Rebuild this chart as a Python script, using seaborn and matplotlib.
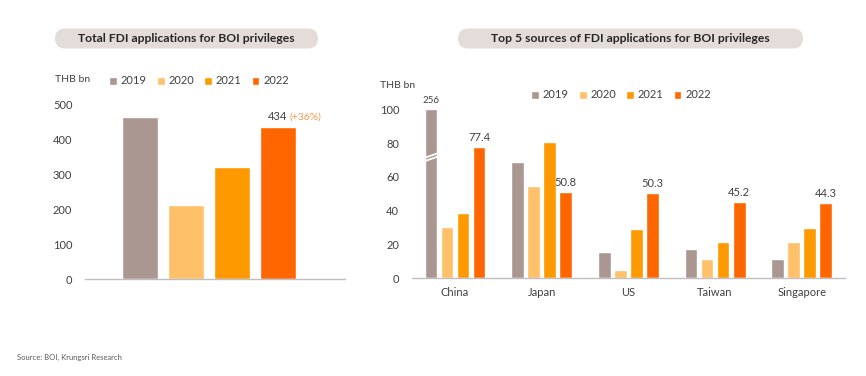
import numpy as np
import pandas as pd
import seaborn as sns
import matplotlib
import matplotlib.pyplot as plt
from matplotlib.patches import FancyBboxPatch
from matplotlib.transforms import IdentityTransform

# data
years = ["2019", "2020", "2021", "2022"]
total_fdi = [465, 212, 320, 434]
total_growth_label = "(+36%)"

countries = ["China", "Japan", "US", "Taiwan", "Singapore"]
src_2019 = [256, 69.0, 15.4, 17.5, 11.2]
src_2020 = [30.6, 54.6, 4.9, 11.2, 21.5]
src_2021 = [38.5, 80.5, 29.4, 21.7, 29.6]
src_2022 = [77.4, 50.8, 50.3, 45.2, 44.3]
right_cap = 100

colors = ["#ab9792", "#fec068", "#fe9a00", "#ff6600"]
title_box = "#e4dcd9"
text_col = "#404040"

if __name__ == "__main__":
  W, H = 866, 376
  sns.set_theme()
  sns.set_style("white")
  plt.rcParams['font.family'] = ['Lato', 'DejaVu Sans']
  plt.rcParams['text.color'] = text_col
  plt.rcParams['axes.labelcolor'] = text_col
  plt.rcParams['xtick.color'] = text_col
  plt.rcParams['ytick.color'] = text_col

  fig = plt.figure(figsize=(W / 100, H / 100), dpi=100)
  ax1 = fig.add_axes([0.098, 0.257, 0.300, 0.4656])
  ax2 = fig.add_axes([0.4754, 0.2598, 0.5004, 0.4495])

  # left panel: totals
  total_df = pd.DataFrame({"year": years, "value": total_fdi})
  sns.barplot(total_df, x="year", y="value", hue="year", palette=colors,
              width=0.78, saturation=1, legend=True, ax=ax1)
  ax1.set_xlim(-1.207, 4.457)
  ax1.set_ylim(0, 500)
  ax1.set_yticks([0, 100, 200, 300, 400, 500])
  ax1.set_xticks([])
  ax1.set_xlabel("")
  ax1.set_ylabel("")
  last = ax1.patches[3]
  cx = last.get_x() + last.get_width() / 2
  ax1.annotate(str(total_fdi[3]), (cx, total_fdi[3]), xytext=(0, 4),
               textcoords="offset points", ha="center", va="bottom", fontsize=8)
  ax1.annotate(total_growth_label, (cx, total_fdi[3]), xytext=(8.5, 4),
               textcoords="offset points", ha="left", va="bottom",
               fontsize=7.5, color="#f79646")

  # right panel: top sources
  rows = []
  for yr, vals in zip(years, [src_2019, src_2020, src_2021, src_2022]):
    for c, v in zip(countries, vals):
      rows.append({"country": c, "year": yr, "value": v,
                   "shown": min(v, right_cap)})
  src_df = pd.DataFrame(rows)
  sns.barplot(src_df, x="country", y="shown", hue="year", palette=colors,
              width=0.74, gap=0.2, saturation=1, ax=ax2)
  ax2.set_xlim(-0.5, 4.5)
  ax2.set_ylim(0, right_cap)
  ax2.set_yticks(range(0, 101, 20))
  ax2.set_xlabel("")
  ax2.set_ylabel("")

  # value labels on 2022 bars and the truncated China bar
  bars_2022 = ax2.containers[3]
  for p, v in zip(bars_2022, src_2022):
    ax2.annotate(f"{v:.1f}", (p.get_x() + p.get_width() / 2, v), xytext=(0, 3),
                 textcoords="offset points", ha="center", va="bottom", fontsize=8)
  china = ax2.containers[0][0]
  ax2.annotate(str(src_2019[0]), (china.get_x() + china.get_width() / 2, right_cap),
               xytext=(0, 3), textcoords="offset points", ha="center",
               va="bottom", fontsize=7)
  # break marks
  bx0, bx1 = china.get_x() - 0.01, china.get_x() + china.get_width() + 0.01
  for y0 in [69.1, 71.1]:
    ax2.plot([bx0, bx1], [y0, y0 + 3], color="white", lw=1.3,
             solid_capstyle="butt", zorder=5)

  for ax in [ax1, ax2]:
    sns.despine(ax=ax, left=True)
    ax.spines['bottom'].set_color("#bfbfbf")
    ax.spines['bottom'].set_linewidth(1)
    ax.tick_params(axis="both", length=0, labelsize=8)
    ax.tick_params(axis="y", pad=9)
    ax.tick_params(axis="x", pad=6)
    ax.grid(False)

  # legends
  leg1 = ax1.get_legend()
  handles, labels = ax1.get_legend_handles_labels()
  leg1.remove()
  fig.legend(handles, labels, loc="center", bbox_to_anchor=(199 / W, 1 - 81 / H),
             ncol=4, frameon=False, fontsize=8, handlelength=0.7, handleheight=0.7,
             handletextpad=0.35, columnspacing=0.9)
  handles, labels = ax2.get_legend_handles_labels()
  ax2.get_legend().remove()
  fig.legend(handles, labels, loc="center", bbox_to_anchor=(621 / W, 1 - 95 / H),
             ncol=4, frameon=False, fontsize=8, handlelength=0.7, handleheight=0.7,
             handletextpad=0.35, columnspacing=0.9)

  # unit labels
  fig.text(55 / W, 1 - 80 / H, "THB bn", fontsize=7.5, va="center")
  fig.text(380 / W, 1 - 86 / H, "THB bn", fontsize=7.5, va="center")

  # title boxes (pill shapes, drawn in pixel units)
  for x0, x1, title in [(55, 318, "Total FDI applications for BOI privileges"),
                        (458, 803, "Top 5 sources of FDI applications for BOI privileges")]:
    y0, y1 = 28.5, 48.5
    box = FancyBboxPatch((x0, H - y1), x1 - x0, y1 - y0,
                         boxstyle="round,pad=0,rounding_size=10",
                         transform=IdentityTransform(), facecolor=title_box,
                         edgecolor="none")
    fig.patches.append(box)
    fig.text((x0 + x1) / 2 / W, 1 - (y0 + y1) / 2 / H, title, ha="center",
             va="center", fontsize=8.7, fontweight="bold", color="#262626")

  fig.text(17 / W, 1 - 357 / H, "Source: BOI, Krungsri Research", fontsize=5.5,
           va="center", color="#595959")

  fig.savefig("out.png", dpi=100)
